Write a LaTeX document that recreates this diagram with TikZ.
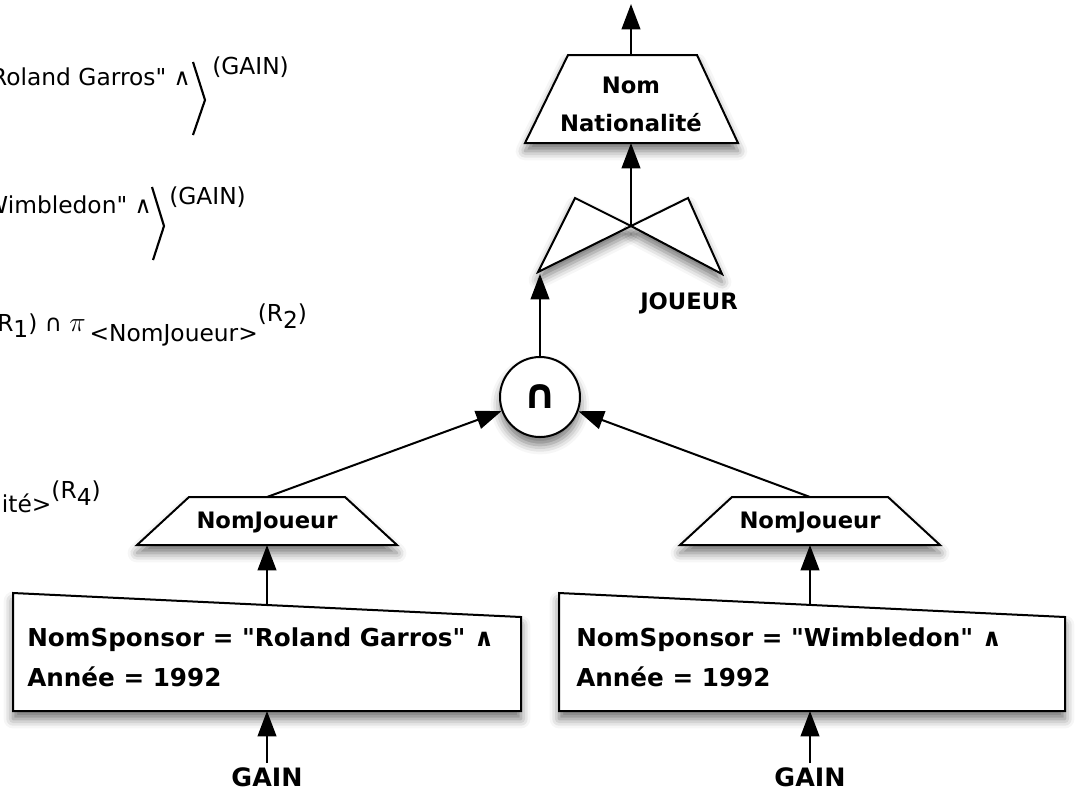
\documentclass[tikz,border=0pt]{standalone}
\usepackage{fontspec}
\setmainfont{DejaVu Sans}[Ligatures=TeXOff]
\usetikzlibrary{arrows.meta,shadows.blur}
\begin{document}
\begin{tikzpicture}[x=0.75pt,y=-0.75pt,
  shadowed/.style={blur shadow={shadow xshift=0pt,shadow yshift=-6pt,shadow blur radius=7pt,shadow opacity=55}},
  opshape/.style={draw=black,line width=1.5pt,fill=white,line join=miter,shadowed},
  link/.style={draw=black,line width=1.5pt,-{Triangle[length=19pt,width=14pt,fill=black]}},
  lbl/.style={font=\fontsize{17}{28.5}\selectfont\bfseries,inner sep=0pt,align=center},
  gainlbl/.style={font=\fontsize{19}{22}\selectfont\bfseries,inner sep=0pt},
  cond/.style={font=\fontsize{18.5}{30}\selectfont\bfseries,inner sep=0pt,align=left,anchor=west},
  frag/.style={font=\fontsize{17.5}{21}\selectfont,inner sep=0pt},
  brk/.style={line width=1.6pt}
]
\useasboundingbox (0,0) rectangle (1077,794);

% ---- left cut-off fragments ----
\node[frag,anchor=east] (f1) at (191,77) {"Roland Garros" ∧};
\node[frag,anchor=west] (f1g) at (212,67) {(GAIN)};
\draw[brk] (193,62) -- (205,100) -- (193,135);

\node[frag,anchor=east] (f2) at (152,205) {"Wimbledon" ∧};
\node[frag,anchor=west] (f2g) at (169,197) {(GAIN)};
\draw[brk] (152,187) -- (164,226) -- (153,260);

\node[frag,anchor=base west] (f3) at (-3,331)
  {R\raisebox{-5pt}{1}) ∩ {\fontsize{21}{21}\selectfont$\pi$}\,\raisebox{-7.5pt}{<NomJoueur>}\raisebox{7pt}{(R\raisebox{-5pt}{2})}};

\node[frag,anchor=base east] (f4) at (101,508)
  {\raisebox{-3pt}{ité>}\raisebox{7pt}{(R\raisebox{-5pt}{4})}};

% ---- shapes ----
% projection Nom, Nationalite
\draw[opshape] (568,55) -- (697,55) -- (738,143) -- (525,143) -- cycle;
\node[lbl] (pnn) at (631,104) {Nom\\Nationalité};
\coordinate (pnn-top) at (631,55);
\coordinate (pnn-bot) at (631,143);
\coordinate (top-out) at (631,4);

% join (bowtie)
\draw[opshape] (631,226) -- (575,198) -- (538,272) -- cycle;
\draw[opshape] (631,226) -- (688,198) -- (722,274) -- cycle;
\coordinate (join-c) at (631,226);
\coordinate (join-l) at (540,274);
\node[lbl] (joueur) at (689,303) {JOUEUR};

% intersection
\node[circle,draw=black,line width=1.5pt,fill=white,minimum size=60pt,inner sep=0pt,shadowed,
  font=\fontsize{31}{31}\selectfont\bfseries] (inter) at (540,397) {∩};

% projections NomJoueur
\draw[opshape] (189,497) -- (345,497) -- (397,545) -- (137,545) -- cycle;
\node[lbl] (nj1) at (267,522) {NomJoueur};
\coordinate (nj1-top) at (267,497);
\coordinate (nj1-bot) at (267,545);

\draw[opshape] (732,497) -- (888,497) -- (940,545) -- (680,545) -- cycle;
\node[lbl] (nj2) at (810,522) {NomJoueur};
\coordinate (nj2-top) at (810,497);
\coordinate (nj2-bot) at (810,545);

% selections
\draw[opshape] (13,593) -- (521,617) -- (521,711) -- (13,711) -- cycle;
\node[cond] (sel1) at (27,657) {NomSponsor = "Roland Garros" ∧\\Année = 1992};
\coordinate (sel1-top) at (267,605);
\coordinate (sel1-bot) at (267,711);

\draw[opshape] (559,593) -- (1065,617) -- (1065,711) -- (559,711) -- cycle;
\node[cond] (sel2) at (576,657) {NomSponsor = "Wimbledon" ∧\\Année = 1992};
\coordinate (sel2-top) at (810,605);
\coordinate (sel2-bot) at (810,711);

\node[gainlbl] (gain1) at (267,777) {GAIN};
\node[gainlbl] (gain2) at (810,777) {GAIN};

% ---- connectors ----
\draw[link] (pnn-top) -- (top-out);
\draw[link] (join-c) -- (pnn-bot);
\draw[link] (inter.north) -- (join-l);
\draw[link] (nj1-top) -- (inter);
\draw[link] (nj2-top) -- (inter);
\draw[link] (sel1-top) -- (nj1-bot);
\draw[link] (sel2-top) -- (nj2-bot);
\draw[link] ([yshift=3pt]gain1.north) -- (sel1-bot);
\draw[link] ([yshift=3pt]gain2.north) -- (sel2-bot);
\end{tikzpicture}
\end{document}
